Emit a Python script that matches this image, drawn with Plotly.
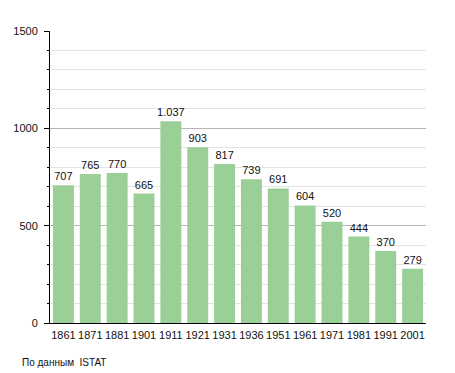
import plotly.graph_objects as go

years = ["1861", "1871", "1881", "1901", "1911", "1921", "1931", "1936", "1951", "1961", "1971", "1981", "1991", "2001"]
population = [707, 765, 770, 665, 1037, 903, 817, 739, 691, 604, 520, 444, 370, 279]
labels = ["707", "765", "770", "665", "1.037", "903", "817", "739", "691", "604", "520", "444", "370", "279"]
y_ticks = [0, 500, 1000, 1500]

font_family = "Liberation Sans, Arial, sans-serif"

fig = go.Figure(go.Bar(
    x=years, y=population, text=labels, textposition="outside",
    marker=dict(color="#9bcf98", line=dict(width=0)),
    textfont=dict(size=11, color="#111", family=font_family),
    cliponaxis=False, constraintext="none", hoverinfo="skip",
))

# page body has an 8px default margin, so the figure is sized to fit inside it
fig.update_layout(
    width=447, height=365,
    margin=dict(l=42, r=29, t=23, b=50, autoexpand=False),
    paper_bgcolor="white", plot_bgcolor="white",
    font=dict(family=font_family, size=11, color="#111"),
    bargap=0.22, showlegend=False,
    uniformtext=dict(minsize=11, mode="show"),
    annotations=[dict(
        text="По данным  ISTAT", xref="paper", yref="paper",
        x=-0.08, y=-0.134, xanchor="left", yanchor="middle",
        showarrow=False, font=dict(size=10, color="#111", family=font_family),
    )],
)
fig.update_xaxes(
    type="category", showline=True, linecolor="black", linewidth=1, automargin=False,
    ticks="", showgrid=False, tickfont=dict(size=11), ticklabelstandoff=2,
)
fig.update_yaxes(
    range=[0, 1500], tickvals=y_ticks, showline=True, linecolor="black", linewidth=1,
    automargin=False,
    ticks="outside", ticklen=5, tickcolor="black", showgrid=True, gridcolor="#b5b5b5",
    zeroline=False, tickfont=dict(size=11), ticklabelstandoff=4,
    minor=dict(dtick=100, ticks="outside", ticklen=2, tickcolor="black",
               showgrid=True, gridcolor="#e3e3e3"),
)

fig.write_html("out.html")
